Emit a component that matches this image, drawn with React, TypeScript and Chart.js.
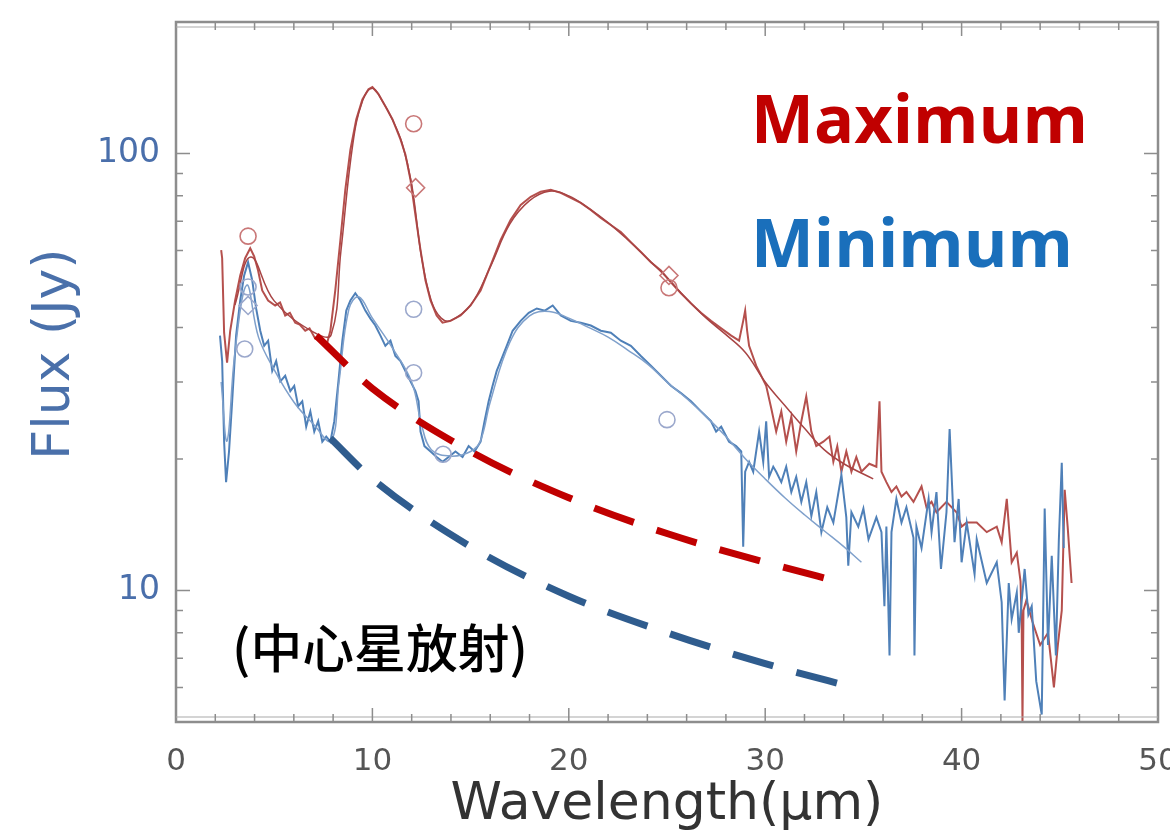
import React, { useEffect, useRef } from 'react';
import { Chart, registerables } from 'chart.js';

Chart.register(...registerables);

// ---- Data (wavelength µm, flux Jy) ----
const xTickValues = [0, 10, 20, 30, 40, 50];
const yTickValues = [10, 100];

const maxObserved: number[][] = [
  [2.30, 60.1], [2.35, 57.6], [2.45, 38.9], [2.60, 33.2], [2.76, 39.3], [3.01, 46.1], [3.27, 52.6], [3.52, 57.6],
  [3.78, 60.7], [3.98, 58.2], [4.18, 54.0], [4.39, 48.6], [4.69, 46.1], [5.05, 44.9], [5.30, 45.6], [5.56, 42.6],
  [5.80, 43.2], [6.07, 41.0], [6.30, 40.6], [6.58, 39.3], [6.80, 39.8], [7.09, 37.7], [7.45, 37.3], [7.70, 36.9],
  [7.86, 39.3], [8.11, 48.6], [8.37, 63.4], [8.62, 82.6], [8.88, 102], [9.18, 119.8], [9.49, 133], [9.80, 140.4],
  [10.0, 142], [10.31, 136.8], [10.66, 128.3], [11.02, 119.8], [11.43, 107.7], [11.68, 99.5], [11.94, 87.1],
  [12.19, 72.4], [12.45, 60.1], [12.70, 51.3], [12.96, 46.1], [13.27, 42.6], [13.57, 41.0], [13.98, 41.4],
  [14.49, 42.6], [15.0, 44.9], [15.51, 48.6], [16.02, 55.5], [16.53, 63.4], [17.04, 70.5], [17.55, 76.3],
  [18.06, 79.6], [18.57, 81.8], [19.08, 82.6], [19.59, 81.3], [20.10, 79.2], [20.61, 77.1], [21.12, 74.3],
  [21.63, 71.2], [22.14, 68.6], [22.65, 66.1], [23.16, 62.7], [23.67, 59.5], [24.18, 56.4], [24.69, 54.0],
  [25.20, 50.7], [25.71, 47.9], [26.22, 45.4], [26.73, 43.2], [27.24, 41.4], [27.76, 39.8], [28.27, 38.3],
  [28.67, 37.3], [28.88, 41.4], [28.98, 43.7], [29.08, 39.3], [29.18, 36.3], [29.54, 32.7], [30.05, 29.4],
  [30.31, 26.1], [30.56, 23.1], [30.82, 25.7], [31.07, 21.9], [31.33, 25.0], [31.58, 20.8], [31.84, 24.4],
  [32.09, 27.8], [32.35, 23.1], [32.60, 21.4], [32.96, 21.9], [33.27, 22.5], [33.47, 19.7], [33.67, 21.4],
  [33.88, 18.7], [34.13, 20.8], [34.39, 18.7], [34.64, 20.2], [34.90, 18.7], [35.30, 19.5], [35.66, 19.2],
  [35.82, 27.1], [35.92, 18.7], [36.17, 17.7], [36.43, 16.8], [36.68, 17.3], [36.94, 16.4], [37.19, 16.8],
  [37.55, 15.95], [37.96, 17.3], [38.21, 15.5], [38.47, 15.95], [38.72, 15.1], [39.23, 15.95], [39.74, 15.1],
  [40.0, 14.0], [40.26, 14.3], [40.77, 14.3], [41.28, 13.6], [41.79, 14.0], [42.04, 12.9], [42.30, 16.2],
  [42.55, 11.6], [42.81, 12.2], [43.00, 10.5], [43.06, 8.4], [43.10, 5.0], [43.15, 9.0], [43.30, 9.5],
  [43.60, 8.5], [44.00, 7.5], [44.40, 8.0], [44.70, 6.0], [44.90, 7.5], [45.10, 9.0], [45.25, 17.0],
  [45.40, 14.0], [45.60, 10.4],
];

const maxModel: number[][] = [
  [3.0, 45], [3.8, 58], [5.0, 46], [7.0, 39], [7.9, 38.5], [8.4, 60], [9.0, 105], [9.5, 132], [10.0, 141],
  [10.5, 132], [11.0, 120], [11.5, 106], [12.0, 85], [12.5, 58], [13.0, 46], [13.5, 42], [14.0, 41.5],
  [15.0, 45], [16.0, 55], [17.0, 69], [18.0, 78], [19.0, 82], [20.0, 80], [21.0, 75], [22.0, 69.5],
  [23.0, 63.5], [24.0, 57.5], [25.0, 52], [26.0, 46.5], [27.0, 42], [28.0, 38.5], [29.0, 35], [30.0, 30],
  [31.0, 26.5], [32.0, 23.5], [33.0, 21], [34.0, 19.5], [35.5, 18],
];

const minObserved: number[][] = [
  [2.24, 38.3], [2.35, 33.5], [2.45, 21.9], [2.55, 17.7], [2.70, 20.8], [2.86, 27.1], [3.06, 38.3], [3.27, 46.1],
  [3.47, 52.6], [3.67, 56.4], [3.88, 51.3], [4.08, 44.2], [4.29, 39.3], [4.49, 36.3], [4.69, 37.3], [4.90, 31.8],
  [5.10, 33.5], [5.31, 30.1], [5.56, 31.0], [5.82, 28.6], [6.02, 29.4], [6.22, 26.4], [6.43, 27.1], [6.63, 23.7],
  [6.84, 25.7], [7.04, 23.1], [7.24, 24.4], [7.45, 21.9], [7.65, 22.5], [7.86, 21.9], [8.06, 24.4], [8.27, 30.1],
  [8.47, 37.3], [8.67, 43.7], [8.88, 46.1], [9.13, 47.9], [9.39, 46.1], [9.64, 43.7], [9.90, 41.9], [10.15, 40.4],
  [10.41, 38.3], [10.66, 36.3], [10.92, 37.3], [11.17, 34.4], [11.43, 33.5], [11.68, 31.8], [11.94, 30.1],
  [12.19, 28.6], [12.35, 27.1], [12.45, 23.1], [12.65, 21.4], [12.96, 20.8], [13.27, 20.2], [13.57, 19.7],
  [13.88, 20.2], [14.23, 20.8], [14.59, 20.2], [14.90, 21.4], [15.20, 20.8], [15.51, 21.9], [15.71, 24.4],
  [15.92, 27.1], [16.12, 29.4], [16.33, 31.8], [16.53, 33.5], [16.84, 36.3], [17.14, 39.3], [17.55, 41.4],
  [17.96, 43.2], [18.37, 44.2], [18.78, 43.7], [19.18, 44.9], [19.59, 42.6], [20.10, 41.4], [20.61, 41.0],
  [21.12, 40.4], [21.63, 39.3], [22.14, 38.9], [22.65, 37.3], [23.16, 36.3], [23.67, 34.4], [24.18, 32.7],
  [24.69, 31.0], [25.20, 29.4], [25.71, 28.3], [26.22, 27.1], [26.73, 25.7], [27.24, 24.4], [27.50, 23.1],
  [27.76, 23.7], [28.16, 21.9], [28.52, 21.4], [28.78, 20.8], [28.88, 12.6], [28.98, 18.7], [29.18, 19.7],
  [29.39, 18.7], [29.69, 23.1], [29.90, 19.7], [30.05, 24.4], [30.20, 18.2], [30.41, 19.2], [30.56, 18.7],
  [30.82, 17.7], [31.07, 19.2], [31.33, 16.8], [31.58, 18.2], [31.84, 15.95], [32.09, 17.7], [32.35, 14.8],
  [32.60, 16.8], [32.86, 13.6], [33.16, 15.5], [33.47, 14.3], [33.88, 18.4], [34.13, 14.7], [34.23, 11.4],
  [34.39, 15.1], [34.74, 14.0], [35.0, 15.4], [35.26, 13.1], [35.66, 14.7], [35.92, 13.6], [36.07, 9.2],
  [36.17, 14.0], [36.33, 7.1], [36.43, 13.6], [36.68, 16.2], [36.94, 14.3], [37.19, 15.5], [37.55, 13.2],
  [37.60, 7.1], [37.70, 14.0], [37.96, 12.5], [38.32, 16.2], [38.47, 13.6], [38.72, 16.8], [38.95, 11.2],
  [39.23, 15.1], [39.39, 23.4], [39.64, 12.9], [39.85, 16.2], [40.0, 11.6], [40.26, 14.3], [40.66, 10.9],
  [40.77, 13.1], [41.28, 10.4], [41.79, 11.6], [42.04, 9.4], [42.19, 5.6], [42.40, 10.4], [42.55, 8.6],
  [42.81, 9.9], [42.91, 8.0], [43.21, 11.2], [43.40, 8.8], [43.57, 9.2], [43.80, 6.2], [44.08, 5.2],
  [44.23, 15.4], [44.40, 7.5], [44.59, 12.0], [44.80, 7.1], [44.95, 13.0], [45.10, 19.6], [45.20, 12.5],
];

const minModel: number[][] = [
  [2.3, 30], [2.6, 22], [3.0, 35], [3.6, 50], [4.2, 38], [5.0, 32], [6.0, 27], [7.0, 24], [7.9, 22],
  [8.3, 30], [8.8, 44], [9.3, 47], [10.0, 42], [11.0, 36], [12.0, 30], [12.5, 24], [13.0, 21], [14.0, 20.3],
  [15.0, 20.8], [15.5, 22], [16.0, 27], [17.0, 37], [18.0, 42.5], [19.0, 43.5], [20.0, 42], [21.0, 40],
  [22.0, 38], [23.0, 35.5], [24.0, 33], [25.0, 30], [26.0, 27.5], [27.0, 25], [28.0, 22.5], [29.0, 20],
  [30.0, 18], [31.0, 16.3], [32.0, 14.9], [33.0, 13.7], [34.0, 12.6], [34.9, 11.6],
];

const maxStar: number[][] = [[7.14, 38.3], [10, 29], [15, 20.8], [20, 16.3], [25, 13.5], [30, 11.6], [34, 10.4]];
const minStar: number[][] = [[7.86, 22.3], [10, 18.0], [15, 12.6], [20, 9.7], [25, 8.0], [30, 6.8], [34.8, 5.95]];

const maxPhotCircles: number[][] = [[3.67, 64.7], [12.1, 117], [25.1, 49.3]];
const maxPhotDiamonds: number[][] = [[12.2, 83.5], [25.1, 52.6]];
const minPhotCircles: number[][] = [[3.67, 49.5], [3.5, 35.7], [12.1, 44], [12.1, 31.5], [13.6, 20.5], [25.0, 24.6]];
const minPhotDiamonds: number[][] = [[3.67, 44.9]];

const toXY = (pairs: number[][]) => pairs.map(([x, y]) => ({ x, y }));

const TICK_FONT = '"DejaVu Sans", sans-serif';

const framePlugin = {
  id: 'frame',
  afterDatasetsDraw(chart: any) {
    const { ctx, chartArea: a, scales } = chart;
    const xs = scales.x;
    const ys = scales.y;
    ctx.save();
    ctx.strokeStyle = '#8d8d8d';
    ctx.lineWidth = 2.5;
    ctx.strokeRect(a.left, a.top, a.right - a.left, a.bottom - a.top);
    ctx.lineWidth = 1.2;
    ctx.strokeStyle = '#aaaaaa';
    ctx.beginPath();
    ctx.moveTo(a.left, a.bottom - 5);
    ctx.lineTo(a.right, a.bottom - 5);
    ctx.moveTo(a.left, a.top + 5);
    ctx.lineTo(a.right, a.top + 5);
    ctx.stroke();
    ctx.strokeStyle = '#8d8d8d';
    ctx.lineWidth = 1.5;
    ctx.beginPath();
    for (let v = 2; v < 50; v += 2) {
      const px = xs.getPixelForValue(v);
      const len = v % 10 === 0 ? 14 : 8;
      ctx.moveTo(px, a.bottom);
      ctx.lineTo(px, a.bottom - len);
      ctx.moveTo(px, a.top);
      ctx.lineTo(px, a.top + len);
    }
    for (let d = 1; d <= 100; d *= 10) {
      for (let m = 1; m < 10; m++) {
        const v = d * m;
        if (v < 5 || v > 200) continue;
        const py = ys.getPixelForValue(v);
        const len = m === 1 ? 14 : 7;
        ctx.moveTo(a.left, py);
        ctx.lineTo(a.left + len, py);
        ctx.moveTo(a.right, py);
        ctx.lineTo(a.right - len, py);
      }
    }
    ctx.stroke();
    ctx.restore();
  },
};

function fitText(ctx: CanvasRenderingContext2D, text: string, weight: string, family: string, targetWidth: number) {
  ctx.font = `${weight} 60px ${family}`;
  const w = ctx.measureText(text).width;
  const size = (60 * targetWidth) / w;
  ctx.font = `${weight} ${size}px ${family}`;
}

const labelPlugin = {
  id: 'labels',
  afterDraw(chart: any) {
    const ctx: CanvasRenderingContext2D = chart.ctx;
    ctx.save();
    ctx.textAlign = 'left';
    ctx.textBaseline = 'alphabetic';
    fitText(ctx, 'Maximum', '700', '"Open Sans", sans-serif', 337);
    ctx.fillStyle = '#c00000';
    ctx.fillText('Maximum', 751, 143);
    fitText(ctx, 'Minimum', '700', '"Open Sans", sans-serif', 322);
    ctx.fillStyle = '#1a6fbb';
    ctx.fillText('Minimum', 751, 267);
    fitText(ctx, '(中心星放射)', '500', '"Noto Sans CJK SC", sans-serif', 296);
    ctx.fillStyle = '#000000';
    ctx.textBaseline = 'middle';
    ctx.fillText('(中心星放射)', 232, 648);
    // y axis title
    ctx.save();
    ctx.translate(55, 354);
    ctx.rotate(-Math.PI / 2);
    ctx.textAlign = 'center';
    ctx.textBaseline = 'middle';
    ctx.font = `52px ${TICK_FONT}`;
    ctx.fillStyle = '#4a70aa';
    ctx.fillText('Flux (Jy)', 0, 0);
    ctx.restore();
    ctx.restore();
  },
};

export default function App() {
  const ref = useRef<HTMLCanvasElement | null>(null);
  useEffect(() => {
    if (!ref.current) return;
    const lineBase = { pointRadius: 0, fill: false, spanGaps: true };
    const chart = new Chart(ref.current, {
      type: 'line',
      data: {
        datasets: [
          { ...lineBase, label: 'max star', data: toXY(maxStar), borderColor: '#c00000', borderWidth: 7, borderDash: [42, 24], cubicInterpolationMode: 'monotone', order: 0 },
          { ...lineBase, label: 'min star', data: toXY(minStar), borderColor: '#2f5c8e', borderWidth: 7, borderDash: [42, 24], cubicInterpolationMode: 'monotone', order: 0 },
          { label: 'max phot', data: toXY(maxPhotCircles), showLine: false, pointRadius: 8, pointStyle: 'circle', pointBorderColor: '#c97777', pointBackgroundColor: 'rgba(255,255,255,0)', pointBorderWidth: 1.6, order: 1 },
          { label: 'max phot d', data: toXY(maxPhotDiamonds), showLine: false, pointRadius: 9, pointStyle: 'rectRot', pointBorderColor: '#c97777', pointBackgroundColor: 'rgba(255,255,255,0)', pointBorderWidth: 1.6, order: 1 },
          { label: 'min phot', data: toXY(minPhotCircles), showLine: false, pointRadius: 8, pointStyle: 'circle', pointBorderColor: '#9ba8cc', pointBackgroundColor: 'rgba(255,255,255,0)', pointBorderWidth: 1.6, order: 1 },
          { label: 'min phot d', data: toXY(minPhotDiamonds), showLine: false, pointRadius: 9, pointStyle: 'rectRot', pointBorderColor: '#9ba8cc', pointBackgroundColor: 'rgba(255,255,255,0)', pointBorderWidth: 1.6, order: 1 },
          { ...lineBase, label: 'min model', data: toXY(minModel), borderColor: '#7fa0cb', borderWidth: 1.5, tension: 0.4, order: 2 },
          { ...lineBase, label: 'max model', data: toXY(maxModel), borderColor: '#a84444', borderWidth: 1.5, tension: 0.4, order: 3 },
          { ...lineBase, label: 'min obs', data: toXY(minObserved), borderColor: '#4f80b8', borderWidth: 2, tension: 0, order: 4 },
          { ...lineBase, label: 'max obs', data: toXY(maxObserved), borderColor: '#b5504d', borderWidth: 2, tension: 0, order: 5 },
        ] as any,
      },
      options: {
        animation: false,
        responsive: false,
        maintainAspectRatio: false,
        devicePixelRatio: 1,
        layout: { padding: { top: 22, right: 12, left: 0, bottom: 0 } },
        plugins: { legend: { display: false }, tooltip: { enabled: false } },
        scales: {
          x: {
            type: 'linear',
            min: 0,
            max: 50,
            grid: { display: false, drawTicks: false },
            border: { display: false },
            afterBuildTicks: (s: any) => { s.ticks = xTickValues.map((v) => ({ value: v })); },
            afterFit: (s: any) => { s.height = 115; s.paddingLeft = 0; s.paddingRight = 0; },
            ticks: { font: { family: TICK_FONT, size: 31 }, color: '#555555', padding: 21, maxRotation: 0, autoSkip: false },
            title: { display: true, text: 'Wavelength(μm)', font: { family: TICK_FONT, size: 52 }, color: '#333333', padding: { top: 0, bottom: 0 } },
          },
          y: {
            type: 'logarithmic',
            min: 5,
            max: 200,
            grid: { display: false, drawTicks: false },
            border: { display: false },
            afterBuildTicks: (s: any) => { s.ticks = yTickValues.map((v) => ({ value: v })); },
            afterFit: (s: any) => { s.width = 176; s.paddingTop = 0; s.paddingBottom = 0; },
            ticks: { font: { family: TICK_FONT, size: 33 }, color: '#4a6fab', padding: 16, autoSkip: false, callback: (v: any) => String(v) },
            title: { display: false },
          },
        },
      } as any,
      plugins: [framePlugin, labelPlugin],
    });
    return () => chart.destroy();
  }, []);
  return (
    <div style={{ position: 'fixed', left: 0, top: 0, width: 1170, height: 837, background: '#ffffff' }}>
      <canvas ref={ref} width={1170} height={837} style={{ display: 'block' }} />
    </div>
  );
}
